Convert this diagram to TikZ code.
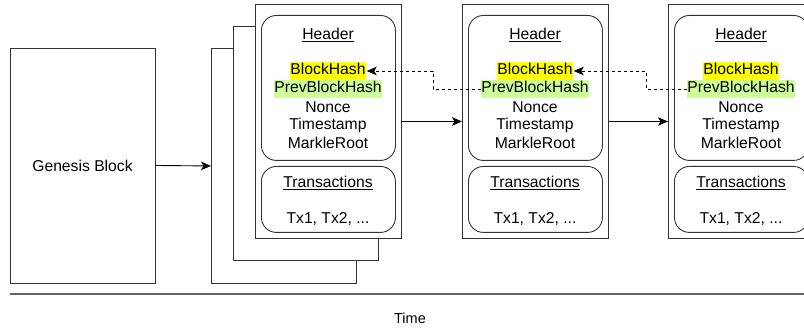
\documentclass[tikz,border=0pt]{standalone}
\usepackage{fontspec}
\setmainfont{Liberation Sans}
\usetikzlibrary{arrows.meta}
\newcommand{\blockwidth}{146pt}
\newcommand{\blockheight}{234pt}
\definecolor{framecolor}{HTML}{333333}
\definecolor{hashyellow}{HTML}{FFFF00}
\definecolor{prevgreen}{HTML}{CCFF99}
\definecolor{timecolor}{HTML}{666666}

\begin{document}
\begin{tikzpicture}[x=1pt, y=1pt,
  every node/.style={font=\fontsize{15.7}{18}\selectfont, inner sep=0pt},
  frame/.style={draw=framecolor, line width=0.9pt, fill=white},
  part/.style={draw=framecolor, line width=0.9pt, rounded corners=15pt},
  field/.style={text height=12pt, text depth=4pt, inner ysep=1pt},
  link/.style={-{Stealth[length=10pt, width=8.5pt, inset=2.5pt]}, line width=0.9pt},
  hashlink/.style={link, dash pattern=on 3pt off 3pt}
]
  \useasboundingbox (0,0) rectangle (804,329);

  % Genesis block
  \node[frame, minimum width=145pt, minimum height=235pt] (gen) at (82.5,163.5) {Genesis Block};

  % Stacked copies behind the first block
  \node[frame, minimum width=145pt, minimum height=235pt, anchor=north west] (stack1) at (211,281) {};
  \node[frame, minimum width=145pt, minimum height=234pt, anchor=north west] (stack2) at (233,303) {};

  % === BLOCKS ===
  \foreach \i/\x in {1/255, 2/462, 3/668} {
    \node[frame, minimum width=\blockwidth, minimum height=\blockheight, anchor=north west] (blk\i) at (\x,325) {};

    % Header part
    \node[part, minimum width=134pt, minimum height=145pt, anchor=north west] (hdr\i) at (\x+6,314) {};
    \node (hdrtitle\i) at (\x+73,294) {\underline{Header}};
    \node[field, fill=hashyellow] (bh\i) at (\x+73,258) {BlockHash};
    \node[field, fill=prevgreen] (pbh\i) at (\x+73,240) {PrevBlockHash};
    \node (nonce\i) at (\x+73,222) {Nonce};
    \node (stamp\i) at (\x+73,204) {Timestamp};
    \node (root\i) at (\x+73,186) {MarkleRoot};

    % Transactions part
    \node[part, minimum width=134pt, minimum height=66pt, anchor=north west] (txs\i) at (\x+6,163) {};
    \node (txstitle\i) at (\x+73,146) {\underline{Transactions}};
    \node (txlist\i) at (\x+73,110) {Tx1, Tx2, ...};
  }

  % Chain links
  \draw[link] (gen.east) -- (stack1.west);
  \draw[link] (blk1.east) -- (blk2.west);
  \draw[link] (blk2.east) -- (blk3.west);

  % Hash references
  \draw[hashlink] (pbh2.west) -- ++(-48,0) |- ([xshift=1pt]bh1.east);
  \draw[hashlink] (pbh3.west) -- ++(-41,0) |- ([xshift=1pt]bh2.east);

  % Time axis
  \coordinate (tstart) at (10,35);
  \coordinate (tend) at (804,35);
  \draw[timecolor, line width=1.5pt] (tstart) -- (tend);
  \node[font=\fontsize{14.5}{17}\selectfont] (time) at (410,11) {Time};
\end{tikzpicture}
\end{document}
